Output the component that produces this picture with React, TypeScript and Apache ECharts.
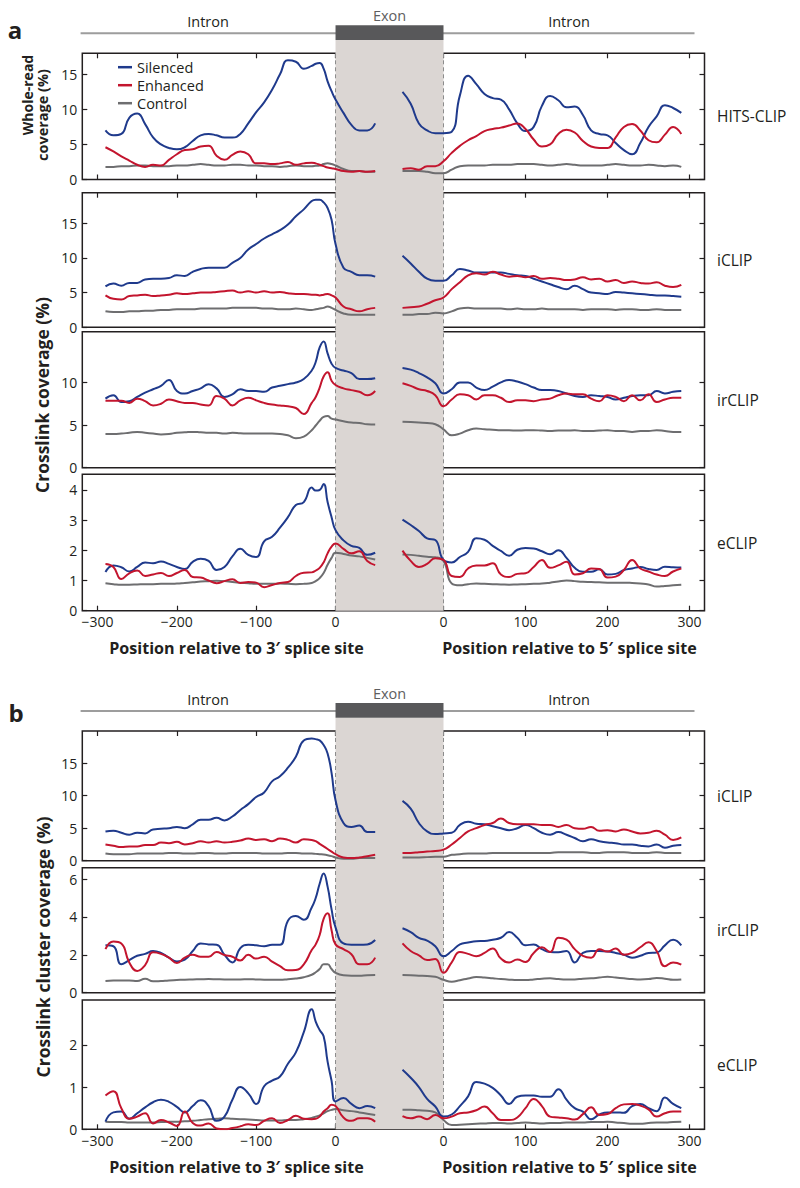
import React, { useEffect, useRef } from "react";
import * as echarts from "echarts";

// ---------- positions along the gene (shared x values) ----------
const xLeft = [-290, -280, -270, -260, -250, -240, -230, -220, -210, -200, -190, -180, -170, -160, -150, -140, -130, -120, -110, -100, -90, -80, -70, -60, -50, -40, -30, -25, -20, -15, -10, -5, 0, 10, 20, 30, 40, 50];
const xRight = [-50, -40, -30, -20, -10, 0, 10, 20, 30, 40, 50, 60, 70, 80, 90, 100, 110, 120, 130, 140, 150, 160, 170, 180, 190, 200, 210, 220, 230, 240, 250, 260, 270, 280, 290];

const xTicksLeft = [-300, -200, -100, 0];
const xTicksRight = [0, 100, 200, 300];

// ---------- a: HITS-CLIP ----------
const hitsTicks = [0, 5, 10, 15];
const hitsSilencedL = [7.0, 6.3, 6.5, 8.8, 9.4, 7.9, 6.0, 5.0, 4.5, 4.3, 4.6, 5.5, 6.3, 6.5, 6.3, 6.0, 6.0, 6.5, 8.0, 9.6, 11.0, 12.8, 15.0, 17.0, 16.8, 15.8, 16.2, 16.5, 16.6, 15.8, 14.0, 12.6, 11.4, 9.5, 7.8, 7.0, 7.0, 8.0];
const hitsEnhancedL = [4.6, 4.0, 3.3, 2.7, 2.1, 1.8, 2.1, 2.0, 2.8, 3.6, 4.2, 4.3, 4.7, 4.8, 3.4, 2.8, 3.5, 4.0, 3.6, 2.3, 2.3, 2.2, 2.3, 2.5, 2.1, 2.3, 2.4, 2.3, 2.1, 1.9, 1.7, 1.6, 1.5, 1.2, 1.1, 1.2, 1.1, 1.2];
const hitsControlL = [1.8, 1.8, 1.9, 1.9, 2.0, 2.0, 1.9, 1.9, 1.9, 2.0, 2.0, 2.1, 2.2, 2.1, 2.0, 2.0, 2.1, 2.1, 2.0, 2.0, 1.9, 1.9, 1.8, 1.9, 2.0, 1.9, 1.9, 1.95, 2.0, 2.2, 2.3, 2.2, 2.0, 1.5, 1.2, 1.2, 1.1, 1.1];
const hitsSilencedR = [12.5, 10.8, 8.0, 7.0, 6.6, 6.6, 6.8, 12.0, 14.8, 13.6, 12.2, 11.6, 11.4, 10.0, 8.0, 6.9, 7.5, 10.5, 11.9, 11.3, 10.3, 10.4, 9.2, 7.0, 6.5, 6.3, 5.2, 4.2, 3.6, 5.2, 7.5, 9.0, 10.6, 10.2, 9.5];
const hitsEnhancedR = [1.5, 1.6, 1.4, 1.9, 1.9, 2.6, 3.8, 4.8, 5.6, 6.2, 6.9, 7.2, 7.4, 7.7, 8.0, 7.2, 5.7, 4.7, 5.0, 6.5, 7.1, 6.7, 5.5, 4.7, 4.5, 4.5, 6.0, 7.5, 7.9, 7.0, 5.6, 5.3, 6.4, 7.5, 6.5];
const hitsControlR = [1.2, 1.2, 1.2, 1.1, 0.9, 0.9, 1.4, 1.9, 2.0, 2.0, 2.0, 2.1, 2.1, 2.1, 2.2, 2.2, 2.2, 2.1, 2.0, 2.1, 2.2, 2.1, 2.0, 2.0, 2.0, 2.1, 2.2, 2.1, 2.0, 2.0, 2.1, 2.0, 1.9, 2.0, 1.8];

// ---------- a: iCLIP ----------
const iclipTicks = [0, 5, 10, 15];
const iclipSilencedL = [5.9, 6.3, 6.0, 6.4, 6.4, 6.9, 7.0, 7.0, 7.1, 7.5, 7.4, 8.0, 8.4, 8.6, 8.6, 8.6, 9.3, 10.0, 11.2, 12.0, 12.8, 13.4, 14.0, 14.8, 16.0, 17.0, 18.2, 18.4, 18.4, 18.0, 17.2, 15.5, 12.0, 8.6, 8.0, 7.5, 7.5, 7.3];
const iclipEnhancedL = [4.6, 4.1, 4.0, 4.5, 4.6, 4.7, 4.5, 4.6, 4.7, 4.9, 4.8, 4.9, 5.0, 5.0, 5.1, 5.2, 5.3, 5.0, 5.2, 5.0, 5.2, 5.0, 5.1, 4.9, 4.8, 4.8, 4.7, 4.7, 4.6, 4.7, 4.8, 4.6, 4.3, 3.0, 2.6, 2.3, 2.6, 2.8];
const iclipControlL = [2.3, 2.2, 2.2, 2.3, 2.3, 2.4, 2.4, 2.5, 2.5, 2.6, 2.6, 2.6, 2.7, 2.7, 2.7, 2.7, 2.8, 2.8, 2.8, 2.8, 2.7, 2.7, 2.6, 2.6, 2.7, 2.6, 2.5, 2.6, 2.7, 2.8, 3.0, 2.8, 2.5, 2.0, 1.8, 1.8, 1.8, 1.8];
const iclipSilencedR = [10.3, 9.2, 8.0, 7.0, 6.7, 6.7, 7.5, 8.4, 8.2, 7.9, 7.9, 7.9, 7.9, 7.7, 7.5, 7.4, 7.0, 6.6, 6.2, 5.8, 5.5, 6.0, 5.5, 5.0, 4.9, 4.8, 5.1, 5.0, 4.9, 4.8, 4.7, 4.6, 4.6, 4.5, 4.4];
const iclipEnhancedR = [2.8, 2.9, 3.0, 3.4, 3.9, 4.3, 5.5, 6.5, 7.5, 7.8, 7.6, 8.0, 7.6, 7.3, 7.4, 7.2, 7.4, 7.0, 7.1, 7.0, 6.8, 6.9, 7.2, 6.9, 7.0, 6.6, 6.8, 6.4, 6.6, 6.4, 6.3, 6.5, 6.0, 5.8, 6.1];
const iclipControlR = [1.8, 1.8, 1.9, 1.9, 2.1, 2.0, 2.3, 2.7, 2.8, 2.7, 2.7, 2.7, 2.7, 2.6, 2.7, 2.6, 2.6, 2.7, 2.6, 2.6, 2.6, 2.6, 2.5, 2.6, 2.6, 2.6, 2.5, 2.6, 2.6, 2.5, 2.5, 2.6, 2.5, 2.5, 2.5];

// ---------- a: irCLIP ----------
const irclipTicks = [0, 5, 10];
const irclipSilencedL = [8.1, 8.5, 7.7, 7.8, 8.3, 8.8, 9.2, 9.6, 10.3, 9.0, 8.7, 9.0, 9.3, 9.8, 9.3, 8.3, 8.6, 9.2, 9.0, 9.0, 8.9, 9.4, 9.6, 9.8, 10.0, 10.4, 11.4, 12.4, 14.1, 14.8, 13.4, 12.2, 11.7, 11.4, 11.1, 10.4, 10.4, 10.5];
const irclipEnhancedL = [7.85, 7.85, 7.85, 7.6, 8.1, 7.8, 7.3, 7.5, 8.0, 7.8, 7.6, 7.6, 7.4, 7.3, 8.4, 8.1, 7.3, 7.9, 8.2, 7.9, 7.6, 7.4, 7.3, 7.2, 7.0, 6.3, 7.6, 8.3, 9.4, 10.7, 11.2, 10.2, 9.7, 9.3, 9.1, 8.9, 8.5, 9.0];
const irclipControlL = [3.95, 3.95, 4.0, 4.1, 4.2, 4.1, 4.0, 3.9, 3.95, 4.1, 4.15, 4.2, 4.15, 4.1, 4.1, 4.0, 4.1, 4.05, 4.0, 4.0, 4.0, 4.0, 3.95, 3.8, 3.45, 3.65, 4.4, 4.95, 5.5, 5.95, 6.05, 5.75, 5.65, 5.45, 5.3, 5.25, 5.1, 5.08];
const irclipSilencedR = [11.7, 11.5, 11.1, 10.6, 9.9, 8.7, 9.2, 10.0, 10.0, 9.4, 9.1, 9.5, 10.0, 10.3, 10.1, 9.8, 9.4, 9.1, 9.1, 9.0, 8.7, 8.4, 8.3, 8.5, 8.4, 8.3, 8.0, 8.2, 8.4, 8.5, 8.5, 9.0, 8.7, 8.9, 9.0];
const irclipEnhancedR = [9.9, 9.6, 9.2, 9.0, 8.5, 7.2, 8.0, 8.6, 8.5, 8.0, 8.5, 8.5, 8.2, 7.7, 7.9, 7.9, 7.8, 8.0, 8.1, 8.5, 8.7, 8.6, 8.6, 8.1, 7.8, 8.5, 8.3, 7.8, 8.5, 7.9, 8.6, 7.7, 8.0, 8.2, 8.2];
const irclipControlR = [5.4, 5.35, 5.3, 5.25, 5.1, 4.5, 3.8, 4.0, 4.4, 4.6, 4.5, 4.45, 4.4, 4.4, 4.35, 4.4, 4.4, 4.35, 4.3, 4.35, 4.35, 4.4, 4.3, 4.3, 4.35, 4.4, 4.3, 4.3, 4.2, 4.3, 4.3, 4.4, 4.3, 4.2, 4.2];

// ---------- a: eCLIP ----------
const eclipTicks = [0, 1, 2, 3, 4];
const eclipSilencedL = [1.28, 1.5, 1.44, 1.3, 1.45, 1.6, 1.57, 1.63, 1.55, 1.45, 1.38, 1.62, 1.72, 1.65, 1.35, 1.45, 1.8, 2.05, 1.85, 1.78, 2.3, 2.45, 2.75, 3.1, 3.5, 3.6, 4.08, 3.98, 4.0, 4.2, 3.6, 3.1, 2.67, 2.33, 2.15, 2.08, 1.85, 1.92];
const eclipEnhancedL = [1.55, 1.45, 1.05, 1.24, 1.33, 1.15, 1.2, 1.25, 1.15, 1.25, 1.35, 1.12, 1.1, 1.0, 0.91, 0.98, 1.04, 0.92, 0.95, 0.93, 0.78, 0.85, 0.92, 0.95, 1.15, 1.26, 1.27, 1.33, 1.42, 1.6, 1.9, 2.12, 2.23, 2.05, 1.9, 1.97, 1.65, 1.51];
const eclipControlL = [0.91, 0.88, 0.86, 0.86, 0.87, 0.88, 0.88, 0.89, 0.89, 0.9, 0.92, 0.94, 0.97, 0.98, 0.99, 0.98, 0.95, 0.93, 0.91, 0.89, 0.89, 0.89, 0.9, 0.89, 0.88, 0.89, 0.92, 0.98, 1.08, 1.25, 1.52, 1.75, 1.92, 1.88, 1.83, 1.8, 1.75, 1.7];
const eclipSilencedR = [3.02, 2.84, 2.64, 2.4, 2.34, 1.68, 1.6, 1.78, 1.95, 2.4, 2.35, 2.15, 1.98, 1.82, 2.02, 2.08, 2.06, 1.97, 1.87, 2.0, 1.75, 1.42, 1.29, 1.29, 1.37, 1.2, 1.22, 1.35, 1.4, 1.45, 1.38, 1.35, 1.46, 1.44, 1.43];
const eclipEnhancedR = [1.99, 1.65, 1.45, 1.55, 1.74, 1.68, 1.15, 1.12, 1.4, 1.5, 1.5, 1.57, 1.2, 1.12, 1.22, 1.24, 1.45, 1.68, 1.42, 1.5, 1.62, 1.2, 1.24, 1.4, 1.38, 1.1, 1.13, 1.35, 1.68, 1.4, 1.3, 1.2, 1.15, 1.3, 1.4];
const eclipControlR = [1.86, 1.85, 1.82, 1.79, 1.77, 1.65, 0.9, 0.84, 0.88, 0.9, 0.89, 0.88, 0.87, 0.86, 0.87, 0.88, 0.89, 0.9, 0.93, 0.97, 1.0, 0.98, 0.96, 0.95, 0.94, 0.93, 0.93, 0.93, 0.92, 0.9, 0.87, 0.8, 0.82, 0.84, 0.86];

// ---------- b: iCLIP clusters ----------
const clIclipTicks = [0, 5, 10, 15];
const clIclipSilencedL = [4.5, 4.6, 4.3, 4.0, 4.3, 4.2, 4.8, 4.9, 5.0, 5.2, 5.0, 5.6, 6.3, 6.3, 6.6, 6.2, 6.8, 7.8, 8.7, 9.8, 10.5, 12.2, 13.0, 14.3, 16.0, 18.5, 18.8, 18.7, 18.5, 17.8, 16.5, 13.5, 9.3, 5.8, 5.2, 5.4, 4.4, 4.4];
const clIclipEnhancedL = [2.5, 2.3, 2.1, 2.2, 2.2, 2.4, 2.4, 2.8, 2.7, 2.9, 2.5, 2.7, 3.0, 2.8, 3.0, 2.8, 2.9, 3.1, 3.4, 3.2, 3.3, 3.0, 3.4, 3.2, 2.8, 3.3, 3.2, 3.0, 2.6, 2.2, 1.8, 1.4, 1.0, 0.5, 0.4, 0.5, 0.7, 0.9];
const clIclipControlL = [1.1, 1.0, 1.0, 1.0, 1.1, 1.1, 1.1, 1.1, 1.2, 1.2, 1.1, 1.1, 1.2, 1.2, 1.1, 1.1, 1.2, 1.2, 1.2, 1.2, 1.1, 1.1, 1.1, 1.2, 1.2, 1.1, 1.1, 1.05, 1.0, 0.95, 0.85, 0.7, 0.5, 0.3, 0.3, 0.4, 0.4, 0.4];
const clIclipSilencedR = [9.2, 8.0, 5.8, 4.5, 4.1, 4.2, 4.3, 5.5, 6.0, 5.7, 5.6, 5.3, 5.0, 4.7, 5.0, 5.5, 5.0, 4.3, 4.0, 4.4, 4.0, 3.5, 3.0, 3.3, 3.0, 2.8, 2.7, 2.5, 2.5, 2.3, 2.2, 2.5, 2.0, 2.3, 2.4];
const clIclipEnhancedR = [1.2, 1.2, 1.3, 1.4, 1.5, 1.7, 2.5, 3.5, 4.5, 5.0, 5.5, 5.8, 6.5, 5.8, 5.6, 5.6, 5.6, 5.5, 5.5, 5.2, 5.5, 5.0, 4.9, 5.2, 4.6, 4.7, 4.5, 4.8, 4.5, 4.2, 4.3, 4.6, 4.0, 3.2, 3.6];
const clIclipControlR = [0.5, 0.5, 0.5, 0.55, 0.6, 0.6, 0.9, 1.0, 1.1, 1.1, 1.1, 1.2, 1.2, 1.2, 1.2, 1.2, 1.2, 1.2, 1.2, 1.3, 1.3, 1.3, 1.3, 1.2, 1.2, 1.3, 1.3, 1.3, 1.2, 1.2, 1.2, 1.3, 1.2, 1.2, 1.2];

// ---------- b: irCLIP clusters ----------
const clIrclipTicks = [0, 2, 4, 6];
const clIrclipSilencedL = [2.5, 2.45, 1.5, 1.72, 1.95, 2.05, 2.2, 2.1, 1.85, 1.65, 1.75, 2.2, 2.6, 2.55, 2.53, 2.0, 1.6, 2.35, 2.53, 2.5, 2.45, 2.53, 2.53, 3.8, 4.05, 3.85, 4.5, 5.0, 5.75, 6.3, 5.6, 4.4, 3.45, 2.6, 2.53, 2.53, 2.55, 2.78];
const clIrclipEnhancedL = [2.3, 2.7, 2.6, 1.6, 1.15, 1.46, 2.13, 2.05, 1.85, 1.57, 1.85, 2.0, 1.9, 1.9, 2.15, 1.99, 1.9, 1.7, 2.0, 1.8, 1.9, 1.64, 1.4, 1.18, 1.2, 1.5, 2.25, 2.55, 3.05, 3.9, 4.2, 3.3, 2.55, 2.3, 2.03, 1.5, 1.5, 1.85];
const clIrclipControlL = [0.62, 0.64, 0.65, 0.65, 0.62, 0.74, 0.6, 0.62, 0.65, 0.67, 0.69, 0.7, 0.71, 0.72, 0.71, 0.7, 0.7, 0.7, 0.71, 0.7, 0.69, 0.68, 0.68, 0.71, 0.75, 0.82, 0.95, 1.08, 1.25, 1.5, 1.5, 1.25, 1.05, 0.92, 0.9, 0.9, 0.92, 0.93];
const clIrclipSilencedR = [3.4, 3.2, 2.9, 2.75, 2.45, 1.92, 2.2, 2.55, 2.65, 2.72, 2.73, 2.8, 2.9, 3.2, 2.9, 2.5, 2.55, 2.3, 2.15, 2.14, 2.2, 1.6, 2.1, 2.2, 2.2, 2.18, 2.1, 2.0, 1.85, 1.95, 2.1, 2.12, 2.5, 2.8, 2.5];
const clIrclipEnhancedR = [2.6, 2.2, 1.97, 1.73, 1.78, 1.05, 1.6, 2.15, 2.05, 1.93, 2.1, 2.34, 1.8, 1.6, 1.75, 1.62, 2.1, 2.4, 2.15, 2.9, 2.8, 2.3, 1.95, 1.85, 2.3, 2.17, 2.34, 2.0, 2.1, 2.4, 2.66, 2.2, 1.4, 1.6, 1.48];
const clIrclipControlR = [0.93, 0.92, 0.9, 0.88, 0.84, 0.68, 0.58, 0.66, 0.75, 0.83, 0.8, 0.76, 0.72, 0.69, 0.67, 0.67, 0.7, 0.74, 0.76, 0.72, 0.7, 0.7, 0.74, 0.76, 0.8, 0.84, 0.8, 0.76, 0.72, 0.7, 0.72, 0.78, 0.74, 0.68, 0.7];

// ---------- b: eCLIP clusters ----------
const clEclipTicks = [0, 1, 2];
const clEclipSilencedL = [0.18, 0.4, 0.42, 0.25, 0.38, 0.52, 0.64, 0.7, 0.65, 0.53, 0.4, 0.55, 0.69, 0.55, 0.2, 0.3, 0.7, 1.0, 0.85, 0.6, 1.02, 1.15, 1.25, 1.55, 1.82, 2.3, 2.84, 2.55, 2.35, 2.2, 1.6, 1.15, 0.66, 0.74, 0.6, 0.5, 0.55, 0.5];
const clEclipEnhancedL = [0.8, 0.9, 0.5, 0.25, 0.3, 0.38, 0.14, 0.22, 0.16, 0.08, 0.42, 0.15, 0.09, 0.14, 0.02, 0.0, 0.03, 0.07, 0.12, 0.1, 0.2, 0.26, 0.15, 0.22, 0.32, 0.25, 0.24, 0.25, 0.3, 0.42, 0.5, 0.58, 0.55, 0.28, 0.2, 0.26, 0.26, 0.18];
const clEclipControlL = [0.18, 0.17, 0.17, 0.16, 0.16, 0.16, 0.16, 0.17, 0.18, 0.18, 0.19, 0.2, 0.22, 0.24, 0.25, 0.26, 0.25, 0.24, 0.23, 0.22, 0.21, 0.21, 0.21, 0.22, 0.22, 0.24, 0.27, 0.3, 0.33, 0.38, 0.43, 0.46, 0.48, 0.45, 0.43, 0.4, 0.37, 0.34];
const clEclipSilencedR = [1.41, 1.22, 1.0, 0.72, 0.54, 0.3, 0.35, 0.55, 0.78, 1.12, 1.08, 0.98, 0.8, 0.6, 0.77, 0.8, 0.8, 0.77, 0.77, 0.95, 0.7, 0.5, 0.42, 0.24, 0.35, 0.4, 0.4, 0.39, 0.55, 0.6, 0.5, 0.43, 0.75, 0.6, 0.5];
const clEclipEnhancedR = [0.31, 0.26, 0.3, 0.24, 0.34, 0.26, 0.3, 0.38, 0.4, 0.45, 0.54, 0.38, 0.22, 0.22, 0.28, 0.5, 0.72, 0.55, 0.3, 0.28, 0.26, 0.23, 0.36, 0.52, 0.34, 0.36, 0.5, 0.59, 0.6, 0.56, 0.47, 0.3, 0.38, 0.42, 0.42];
const clEclipControlR = [0.46, 0.46, 0.45, 0.44, 0.4, 0.22, 0.1, 0.11, 0.12, 0.13, 0.14, 0.15, 0.15, 0.14, 0.15, 0.16, 0.15, 0.14, 0.15, 0.15, 0.16, 0.16, 0.16, 0.17, 0.17, 0.18, 0.16, 0.15, 0.13, 0.13, 0.15, 0.16, 0.16, 0.17, 0.18];

const legendNames = ["Silenced", "Enhanced", "Control"];

// ---------- styling / layout ----------
const FONT = "'Open Sans', 'Noto Sans', sans-serif";
const INK = "#231f20";
const BLUE = "#1f3a8c";
const RED = "#c3152e";
const GREY = "#6e6e70";
const SHADE = "#dbd6d3";

const GRID_LEFT = 82.3;
const GRID_W = 622.2;
const A_MIN = -319.2;
const A_MAX = 465.1;
const B_MIN = -440.5;
const B_MAX = 318.3;
const exonL = GRID_LEFT + ((0 - A_MIN) / (A_MAX - A_MIN)) * GRID_W;
const exonR = GRID_LEFT + ((0 - B_MIN) / (B_MAX - B_MIN)) * GRID_W;

type Panel = {
  name: string; top: number; bottom: number; ymax: number; ticks: number[];
  sil: number[][]; enh: number[][]; ctl: number[][];
  topTicks: boolean; bottomTicks: boolean; xLabels: boolean;
};

const PANELS: Panel[] = [
  { name: "HITS-CLIP", top: 53.3, bottom: 179.5, ymax: 18, ticks: hitsTicks, sil: [hitsSilencedL, hitsSilencedR], enh: [hitsEnhancedL, hitsEnhancedR], ctl: [hitsControlL, hitsControlR], topTicks: true, bottomTicks: true, xLabels: false },
  { name: "iCLIP", top: 192.7, bottom: 327.3, ymax: 19.4, ticks: iclipTicks, sil: [iclipSilencedL, iclipSilencedR], enh: [iclipEnhancedL, iclipEnhancedR], ctl: [iclipControlL, iclipControlR], topTicks: true, bottomTicks: false, xLabels: false },
  { name: "irCLIP", top: 331.7, bottom: 467.7, ymax: 15.95, ticks: irclipTicks, sil: [irclipSilencedL, irclipSilencedR], enh: [irclipEnhancedL, irclipEnhancedR], ctl: [irclipControlL, irclipControlR], topTicks: false, bottomTicks: false, xLabels: false },
  { name: "eCLIP", top: 474.3, bottom: 610.7, ymax: 4.52, ticks: eclipTicks, sil: [eclipSilencedL, eclipSilencedR], enh: [eclipEnhancedL, eclipEnhancedR], ctl: [eclipControlL, eclipControlR], topTicks: false, bottomTicks: true, xLabels: true },
  { name: "iCLIP", top: 731, bottom: 860.7, ymax: 19.95, ticks: clIclipTicks, sil: [clIclipSilencedL, clIclipSilencedR], enh: [clIclipEnhancedL, clIclipEnhancedR], ctl: [clIclipControlL, clIclipControlR], topTicks: true, bottomTicks: false, xLabels: false },
  { name: "irCLIP", top: 867.7, bottom: 992.7, ymax: 6.6, ticks: clIrclipTicks, sil: [clIrclipSilencedL, clIrclipSilencedR], enh: [clIrclipEnhancedL, clIrclipEnhancedR], ctl: [clIrclipControlL, clIrclipControlR], topTicks: false, bottomTicks: false, xLabels: false },
  { name: "eCLIP", top: 1000, bottom: 1129.3, ymax: 3.06, ticks: clEclipTicks, sil: [clEclipSilencedL, clEclipSilencedR], enh: [clEclipEnhancedL, clEclipEnhancedR], ctl: [clEclipControlL, clEclipControlR], topTicks: false, bottomTicks: true, xLabels: true },
];

const minusFmt = (v: number) => (v < 0 ? "\u2212" + Math.abs(v) : String(v));

function xAxisDef(gridIndex: number, min: number, max: number, ticks: number[], position: string, showTicks: boolean, showLabels: boolean) {
  return {
    gridIndex, type: "value", min, max, position,
    axisLine: { show: false, onZero: false },
    splitLine: { show: false },
    axisTick: { show: showTicks, inside: true, length: 5, customValues: ticks, lineStyle: { color: INK, width: 1.2 } },
    axisLabel: { show: showLabels, customValues: ticks, formatter: minusFmt, margin: 4, fontSize: 14, color: INK, fontFamily: FONT },
  };
}

function yAxisDef(gridIndex: number, max: number, ticks: number[], position: string, showLabels: boolean) {
  return {
    gridIndex, type: "value", min: 0, max, position,
    axisLine: { show: false, onZero: false },
    splitLine: { show: false },
    axisTick: { show: true, inside: true, length: 5, customValues: ticks, lineStyle: { color: INK, width: 1.2 } },
    axisLabel: { show: showLabels, customValues: ticks, margin: 5, fontSize: 14, color: INK, fontFamily: FONT },
  };
}

function txt(x: number, y: number, text: string, opts: any = {}) {
  const { rotation, ...style } = opts;
  return {
    type: "text", x, y, rotation: rotation || 0, z: 5, silent: true,
    style: {
      text, fill: INK, fontFamily: FONT, fontSize: 14.5,
      align: "center", verticalAlign: "middle", textAlign: "center", textVerticalAlign: "middle",
      ...style,
    },
  };
}

function buildOption() {
  const grid: any[] = [];
  const xAxis: any[] = [];
  const yAxis: any[] = [];
  const series: any[] = [];
  const graphic: any[] = [];

  PANELS.forEach((p, i) => {
    grid.push({
      left: GRID_LEFT, width: GRID_W, top: p.top, height: p.bottom - p.top,
      show: true, borderColor: INK, borderWidth: 1.5, backgroundColor: "transparent",
    });
    const xa = xAxis.length;
    xAxis.push(xAxisDef(i, A_MIN, A_MAX, xTicksLeft, "bottom", p.bottomTicks, p.xLabels));
    const xb = xAxis.length;
    xAxis.push(xAxisDef(i, B_MIN, B_MAX, xTicksRight, "bottom", p.bottomTicks, p.xLabels));
    if (p.topTicks) {
      xAxis.push(xAxisDef(i, A_MIN, A_MAX, xTicksLeft, "top", true, false));
      xAxis.push(xAxisDef(i, B_MIN, B_MAX, xTicksRight, "top", true, false));
    }
    const ya = yAxis.length;
    yAxis.push(yAxisDef(i, p.ymax, p.ticks, "left", true));
    yAxis.push(yAxisDef(i, p.ymax, p.ticks, "right", false));

    const groups: [string, string, number[][]][] = [
      [legendNames[2], GREY, p.ctl],
      [legendNames[0], BLUE, p.sil],
      [legendNames[1], RED, p.enh],
    ];
    groups.forEach(([name, color, [left, right]]) => {
      [[xLeft, left, xa], [xRight, right, xb]].forEach(([xs, vals, xi]: any) => {
        series.push({
          type: "line", name, xAxisIndex: xi, yAxisIndex: ya,
          data: xs.map((x: number, k: number) => [x, vals[k]]),
          smooth: 0.5, showSymbol: false, symbol: "none",
          lineStyle: { color, width: 2 }, itemStyle: { color },
          z: 3, silent: true,
        });
      });
    });

    graphic.push(txt(717, (p.top + p.bottom) / 2, p.name, { align: "left", textAlign: "left", fontSize: 15.5 }));
  });

  const sections = [
    { top: PANELS[0].top, bottom: PANELS[3].bottom },
    { top: PANELS[4].top, bottom: PANELS[6].bottom },
  ];
  sections.forEach((s) => {
    const barTop = s.top - 28;
    const barBottom = s.top - 13.3;
    graphic.push({ type: "rect", z: 1, silent: true, shape: { x: exonL, y: barBottom, width: exonR - exonL, height: s.bottom - barBottom }, style: { fill: SHADE } });
    [exonL, exonR].forEach((x) => {
      graphic.push({ type: "line", z: 1, silent: true, shape: { x1: x, y1: s.top, x2: x, y2: s.bottom }, style: { stroke: "#8c8c8c", lineWidth: 1, lineDash: [4, 3] } });
    });
    graphic.push({ type: "line", z: 1, silent: true, shape: { x1: 80.6, y1: s.top - 20, x2: 694.5, y2: s.top - 20 }, style: { stroke: "#9d9d9d", lineWidth: 2 } });
    graphic.push({ type: "rect", z: 2, silent: true, shape: { x: exonL, y: barTop, width: exonR - exonL, height: barBottom - barTop }, style: { fill: "#58585a" } });
    graphic.push(txt((80.6 + exonL) / 2, s.top - 32, "Intron"));
    graphic.push(txt((exonR + 694.5) / 2, s.top - 32, "Intron"));
    graphic.push(txt((exonL + exonR) / 2, s.top - 38, "Exon", { fill: "#5e5e60" }));
    graphic.push(txt(236.5, s.bottom + 37.5, "Position relative to 3\u2032 splice site", { fontWeight: "bold", fontSize: 16.1 }));
    graphic.push(txt(569.5, s.bottom + 37.5, "Position relative to 5\u2032 splice site", { fontWeight: "bold", fontSize: 16.1 }));
  });

  graphic.push(txt(15, 29, "a", { fontWeight: "bold", fontSize: 24 }));
  graphic.push(txt(16, 712, "b", { fontWeight: "bold", fontSize: 24 }));
  graphic.push(txt(27, 95, "Whole-read", { fontWeight: "bold", fontSize: 14, rotation: Math.PI / 2 }));
  graphic.push(txt(42, 115, "coverage (%)", { fontWeight: "bold", fontSize: 14.5, rotation: Math.PI / 2 }));
  graphic.push(txt(42, 395, "Crosslink coverage (%)", { fontWeight: "bold", fontSize: 17.5, rotation: Math.PI / 2 }));
  graphic.push(txt(43, 947, "Crosslink cluster coverage (%)", { fontWeight: "bold", fontSize: 17.5, rotation: Math.PI / 2 }));

  return {
    animation: false,
    backgroundColor: "#ffffff",
    textStyle: { fontFamily: FONT },
    legend: {
      data: legendNames, orient: "vertical", left: 118, top: 59.7, padding: 0,
      icon: "rect", itemWidth: 14, itemHeight: 2.5, itemGap: 3,
      selectedMode: false,
      textStyle: { fontSize: 14.5, color: INK, fontFamily: FONT, lineHeight: 14 },
    },
    grid, xAxis, yAxis, series, graphic,
  };
}

export default function App() {
  const ref = useRef<HTMLDivElement>(null);
  useEffect(() => {
    const chart = echarts.init(ref.current as HTMLDivElement, null, { renderer: "svg" });
    chart.setOption(buildOption() as any);
    return () => chart.dispose();
  }, []);
  return <div ref={ref} style={{ position: "fixed", left: 0, top: 0, width: 800, height: 1188, background: "#fff" }} />;
}
